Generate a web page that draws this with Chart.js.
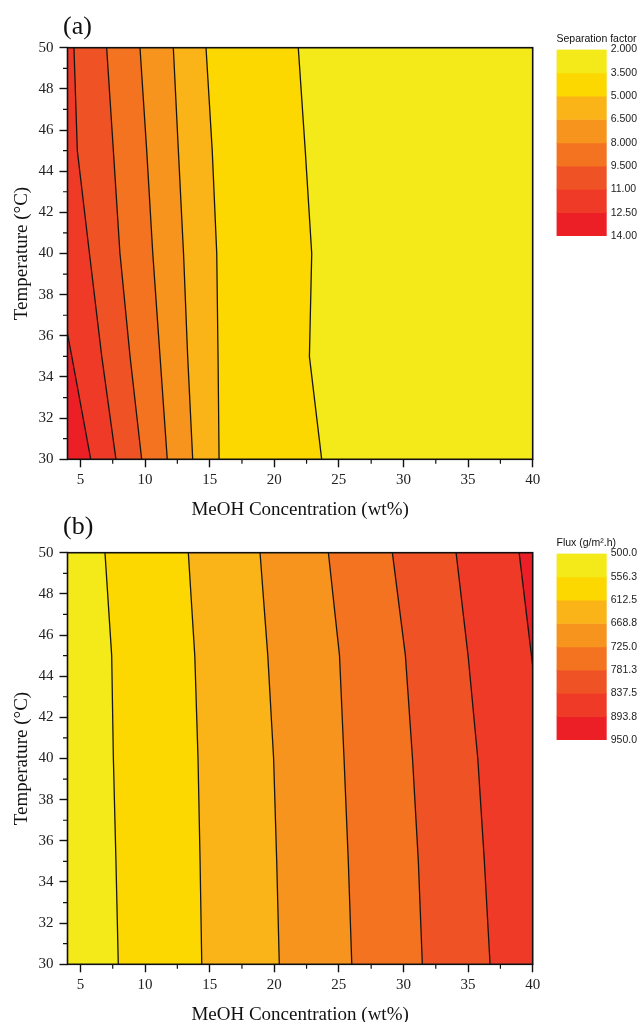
<!DOCTYPE html>
<html><head><meta charset="utf-8">
<script src="https://cdn.jsdelivr.net/npm/chart.js@4.4.1/dist/chart.umd.min.js"></script>
<style>
html,body{margin:0;padding:0;background:#fff;overflow:hidden;width:638px;height:1022px;position:relative;}
canvas{position:absolute;}
</style></head><body>
<canvas id="ca" width="638" height="530" style="left:0;top:0"></canvas>
<canvas id="cb" width="638" height="530" style="left:0;top:505px"></canvas>
<canvas id="la" width="88" height="230" style="left:550px;top:25px"></canvas>
<canvas id="lb" width="88" height="230" style="left:550px;top:529px"></canvas>
<script>
// ---------- axes ----------
const xTicks = [5, 10, 15, 20, 25, 30, 35, 40];
const xMinorTicks = [7.5, 12.5, 17.5, 22.5, 27.5, 32.5, 37.5];
const yTicks = [30, 32, 34, 36, 38, 40, 42, 44, 46, 48, 50];
const yMinorTicks = [31, 33, 35, 37, 39, 41, 43, 45, 47, 49];
const tempGrid = [50, 45, 40, 35, 30];

// ---------- shared colour scale (low -> high) ----------
const bandColors = ['#F4E919', '#FDD800', '#FBB417', '#F7941E', '#F37321', '#EF5325', '#EE3A27', '#EC1F27'];

// ---------- (a) separation factor ----------
const sfLevels = [2, 3.5, 5, 6.5, 8, 9.5, 11, 12.5, 14];
// contour x positions (wt%) at tempGrid temperatures
const sfLine3_5  = [21.86, 22.40, 22.90, 22.72, 23.67];
const sfLine5_0  = [14.72, 15.20, 15.55, 15.65, 15.73];
const sfLine6_5  = [12.19, 12.58, 12.98, 13.30, 13.69];
const sfLine8_0  = [9.61, 10.13, 10.60, 11.16, 11.72];
const sfLine9_5  = [7.03, 7.55, 8.06, 8.84, 9.74];
const sfLine11_0 = [4.50, 4.76, 5.70, 6.65, 7.75];
const sfLine12_5X = [4.00, 4.33, 5.80];
const sfLine12_5T = [36.1, 35, 30];

// ---------- (b) flux ----------
const fluxLevels = [500, 556.25, 612.5, 668.75, 725, 781.25, 837.5, 893.75, 950];
const fxLine556 = [6.90, 7.42, 7.55, 7.75, 7.93];
const fxLine612 = [13.35, 13.85, 14.10, 14.26, 14.39];
const fxLine668 = [18.90, 19.50, 19.95, 20.19, 20.39];
const fxLine725 = [24.19, 25.05, 25.40, 25.73, 26.00];
const fxLine781 = [29.14, 30.15, 30.70, 31.15, 31.46];
const fxLine837 = [34.07, 35.00, 35.75, 36.26, 36.70];
const fxLine893X = [38.95, 40.0];
const fxLine893T = [50, 44.5];

const X0 = 4, X1 = 40, T0 = 30, T1 = 50;

function pts(xs, ts) { return xs.map((x, i) => ({x: x, y: ts[i]})); }
function leftOf(line) { return [{x: X0, y: T0}, {x: X0, y: T1}].concat(line); }
function leftOfFromEdge(line) { return [{x: X0, y: T0}].concat(line); }
function rightOf(line) { return line.concat([{x: X1, y: T0}, {x: X1, y: T1}]); }
const fullRect = [{x: X0, y: T1}, {x: X0, y: T0}, {x: X1, y: T0}, {x: X1, y: T1}];

const SERIF = '"Liberation Serif", "Times New Roman", Times, serif';
const SANS = '"Liberation Sans", Arial, Helvetica, sans-serif';

const framePlugin = {
  id: 'frame',
  afterDraw(chart, args, opts) {
    const {ctx, chartArea: a, scales: {x, y}} = chart;
    ctx.save();
    ctx.strokeStyle = '#111';
    ctx.lineWidth = 1.2;
    ctx.beginPath();
    xMinorTicks.forEach(v => { const p = x.getPixelForValue(v); ctx.moveTo(p, a.bottom); ctx.lineTo(p, a.bottom + 4.5); });
    yMinorTicks.forEach(v => { const p = y.getPixelForValue(v); ctx.moveTo(a.left, p); ctx.lineTo(a.left - 4.5, p); });
    ctx.stroke();
    ctx.lineWidth = 1.6;
    ctx.strokeRect(a.left, a.top, a.right - a.left, a.bottom - a.top);
    ctx.font = '26px ' + SERIF;
    ctx.fillStyle = '#111';
    ctx.textBaseline = 'middle';
    ctx.textAlign = 'left';
    ctx.fillText(opts.label, opts.lx, opts.ly);
    ctx.restore();
  }
};

function makeMain(id, fills, lines, label, ly) {
  const datasets = [];
  const N = fills.length;
  fills.forEach((f, i) => datasets.push({
    data: f.pts, backgroundColor: f.color, borderColor: f.color, borderWidth: 0,
    fill: 'shape', showLine: true, pointRadius: 0, tension: 0, order: N - i + 1
  }));
  lines.forEach(l => datasets.push({
    data: l, borderColor: '#161616', borderWidth: 1.3, fill: false,
    showLine: true, pointRadius: 0, tension: 0, order: 0
  }));
  new Chart(document.getElementById(id), {
    type: 'scatter',
    data: {datasets},
    options: {
      responsive: false, animation: false, events: [],
      layout: {padding: {left: 0, top: 47.7, right: 105.3, bottom: 0}},
      plugins: {legend: {display: false}, tooltip: {enabled: false}, frame: {label: label, lx: 63, ly: ly}},
      scales: {
        x: {
          type: 'linear', position: 'bottom', min: X0, max: X1,
          afterBuildTicks: ax => { ax.ticks = xTicks.map(v => ({value: v})); },
          afterFit: s => { s.height = 70.7; },
          grid: {drawOnChartArea: false, drawTicks: true, tickLength: 8, tickColor: '#111', tickWidth: 1.4},
          border: {display: false},
          ticks: {autoSkip: false, maxRotation: 0, padding: 4, color: '#222', font: {family: SERIF, size: 15}},
          title: {display: true, text: 'MeOH Concentration (wt%)', color: '#111', font: {family: SERIF, size: 19}, padding: {top: 0, bottom: 8.6}}
        },
        y: {
          type: 'linear', position: 'left', min: T0, max: T1,
          afterBuildTicks: ax => { ax.ticks = yTicks.map(v => ({value: v})); },
          afterFit: s => { s.width = 67.5; },
          grid: {drawOnChartArea: false, drawTicks: true, tickLength: 8, tickColor: '#111', tickWidth: 1.4},
          border: {display: false},
          ticks: {autoSkip: false, padding: 6, color: '#222', font: {family: SERIF, size: 15}},
          title: {display: true, text: 'Temperature (°C)', color: '#111', font: {family: SERIF, size: 19}, padding: {top: 10.5, bottom: 0}}
        }
      }
    },
    plugins: [framePlugin]
  });
}

function makeBar(id, levels, colors, title) {
  new Chart(document.getElementById(id), {
    type: 'bar',
    data: {
      labels: [''],
      datasets: colors.map((c, i) => ({
        data: [[levels[i], levels[i + 1]]], backgroundColor: c, borderWidth: 0,
        grouped: false, barPercentage: 1, categoryPercentage: 1
      }))
    },
    options: {
      responsive: false, animation: false, events: [],
      layout: {padding: {left: 6.5, right: 0, top: 0, bottom: 19}},
      plugins: {
        legend: {display: false}, tooltip: {enabled: false},
        title: {display: true, text: title, align: 'start', color: '#111',
          font: {family: SANS, size: 10.5, weight: 'normal'}, padding: {top: 8, bottom: 4}}
      },
      scales: {
        x: {display: false},
        y: {
          position: 'right', reverse: true, min: levels[0], max: levels[levels.length - 1],
          afterBuildTicks: ax => { ax.ticks = levels.map(v => ({value: v})); },
          afterFit: s => { s.width = 31.3; },
          grid: {display: false, drawTicks: false},
          border: {display: false},
          ticks: {autoSkip: false, padding: 4, color: '#222', font: {family: SANS, size: 10.5},
            callback: v => Number(v).toPrecision(4)}
        }
      }
    }
  });
}

// (a): fills painted left of each contour, lowest band as base
const sfFills = [
  {pts: fullRect, color: bandColors[0]},
  {pts: leftOf(pts(sfLine3_5, tempGrid)), color: bandColors[1]},
  {pts: leftOf(pts(sfLine5_0, tempGrid)), color: bandColors[2]},
  {pts: leftOf(pts(sfLine6_5, tempGrid)), color: bandColors[3]},
  {pts: leftOf(pts(sfLine8_0, tempGrid)), color: bandColors[4]},
  {pts: leftOf(pts(sfLine9_5, tempGrid)), color: bandColors[5]},
  {pts: leftOf(pts(sfLine11_0, tempGrid)), color: bandColors[6]},
  {pts: leftOfFromEdge(pts(sfLine12_5X, sfLine12_5T)), color: bandColors[7]}
];
const sfLines = [sfLine3_5, sfLine5_0, sfLine6_5, sfLine8_0, sfLine9_5, sfLine11_0].map(l => pts(l, tempGrid))
  .concat([pts(sfLine12_5X, sfLine12_5T)]);

// (b): fills painted right of each contour
const fxFills = [
  {pts: fullRect, color: bandColors[0]},
  {pts: rightOf(pts(fxLine556, tempGrid)), color: bandColors[1]},
  {pts: rightOf(pts(fxLine612, tempGrid)), color: bandColors[2]},
  {pts: rightOf(pts(fxLine668, tempGrid)), color: bandColors[3]},
  {pts: rightOf(pts(fxLine725, tempGrid)), color: bandColors[4]},
  {pts: rightOf(pts(fxLine781, tempGrid)), color: bandColors[5]},
  {pts: rightOf(pts(fxLine837, tempGrid)), color: bandColors[6]},
  {pts: pts(fxLine893X, fxLine893T).concat([{x: X1, y: T1}]), color: bandColors[7]}
];
const fxLines = [fxLine556, fxLine612, fxLine668, fxLine725, fxLine781, fxLine837].map(l => pts(l, tempGrid))
  .concat([pts(fxLine893X, fxLine893T)]);

makeMain('ca', sfFills, sfLines, '(a)', 27);
makeMain('cb', fxFills, fxLines, '(b)', 22);
makeBar('la', sfLevels, bandColors, 'Separation factor');
makeBar('lb', fluxLevels, bandColors, 'Flux (g/m\u00B2.h)');
</script>
</body></html>
